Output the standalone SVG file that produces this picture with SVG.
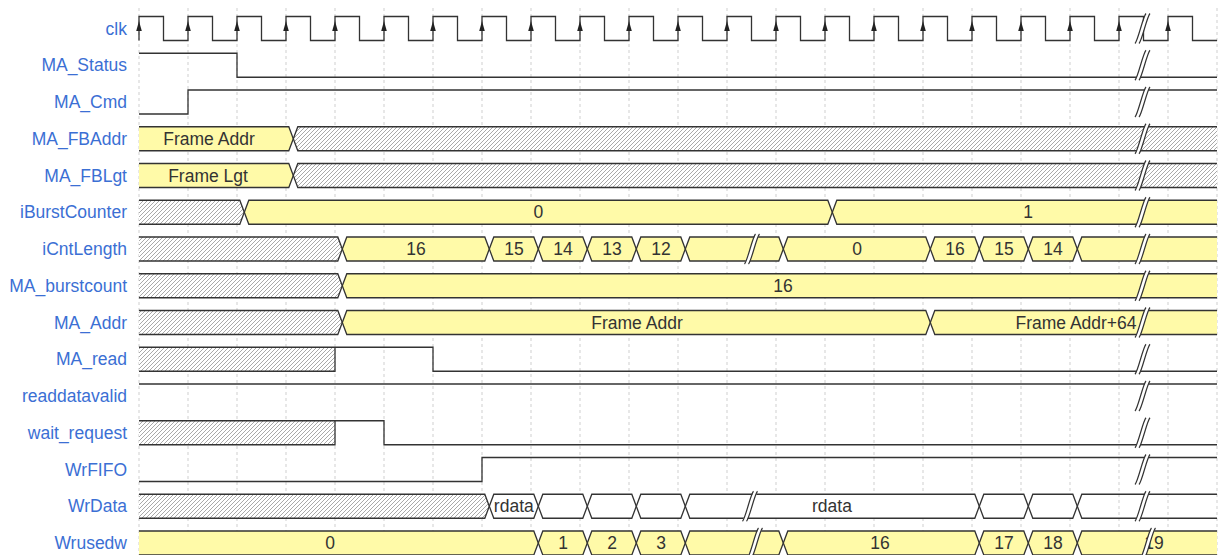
<svg xmlns="http://www.w3.org/2000/svg" xmlns:xlink="http://www.w3.org/1999/xlink" width="1225" height="555" viewBox="0 0 1225 555">
<style>
.lbl{font-family:"Liberation Sans",Arial,sans-serif;font-size:17.5px;fill:#3b6fd4;text-anchor:end}
.val{font-family:"Liberation Sans",Arial,sans-serif;font-size:17.5px;fill:#333;text-anchor:middle}
.sig{fill:none;stroke:#333;stroke-width:1.3}
.by{fill:#fffaa8;stroke:#333;stroke-width:1.3}
.bw{fill:#fff;stroke:#333;stroke-width:1.3}
.fy{fill:#fffaa8;stroke:none}
.fh{fill:url(#hatch);stroke:none}
.fw{fill:#fff;stroke:none}
.grid{stroke:#cfcfcf;stroke-width:1;stroke-dasharray:3 3;fill:none}
</style>
<defs>
<pattern id="hatch" width="4" height="4" patternUnits="userSpaceOnUse">
<rect width="4" height="4" fill="#fff"/>
<path d="M-1,1 L1,-1 M0,4 L4,0 M3,5 L5,3" stroke="#9a9a9a" stroke-width="0.85"/>
</pattern>
<path id="arr" d="M0,-7.5 L-2.8,2.5 L2.8,2.5 Z" fill="#222"/>
<g id="brk">
<path d="M-7.5,15 L3.5,-15 L7.5,-15 L-3.5,15 Z" fill="#fff"/>
<path d="M-7.5,15 C-4.5,12 0.5,-12 3.5,-15 M-3.5,15 C-0.5,12 4.5,-12 7.5,-15" fill="none" stroke="#333" stroke-width="1.2"/>
</g>
</defs>
<rect width="1225" height="555" fill="#fff"/>

<g id="grid">
<path class="grid" d="M139,8V555M188,8V555M237,8V555M286,8V555M335,8V555M384,8V555M433,8V555M482,8V555M531,8V555M580,8V555M629,8V555M678,8V555M727,8V555M776,8V555M825,8V555M874,8V555M923,8V555M972,8V555M1021,8V555M1070,8V555M1119,8V555M1168,8V555M1217,8V555"/>
</g>

<g id="sig-clk">
<text class="lbl" x="127" y="34.5">clk</text>
<path class="sig" d="M139,40.5 V16.5 H163.5 V40.5 H188 V16.5 H212.5 V40.5 H237 V16.5 H261.5 V40.5 H286 V16.5 H310.5 V40.5 H335 V16.5 H359.5 V40.5 H384 V16.5 H408.5 V40.5 H433 V16.5 H457.5 V40.5 H482 V16.5 H506.5 V40.5 H531 V16.5 H555.5 V40.5 H580 V16.5 H604.5 V40.5 H629 V16.5 H653.5 V40.5 H678 V16.5 H702.5 V40.5 H727 V16.5 H751.5 V40.5 H776 V16.5 H800.5 V40.5 H825 V16.5 H849.5 V40.5 H874 V16.5 H898.5 V40.5 H923 V16.5 H947.5 V40.5 H972 V16.5 H996.5 V40.5 H1021 V16.5 H1045.5 V40.5 H1070 V16.5 H1094.5 V40.5 H1119 V16.5 H1143.5 V40.5 H1168 V16.5 H1192.5 V40.5 H1217"/>
<use xlink:href="#arr" x="139" y="28.5"/><use xlink:href="#arr" x="188" y="28.5"/><use xlink:href="#arr" x="237" y="28.5"/><use xlink:href="#arr" x="286" y="28.5"/><use xlink:href="#arr" x="335" y="28.5"/><use xlink:href="#arr" x="384" y="28.5"/><use xlink:href="#arr" x="433" y="28.5"/><use xlink:href="#arr" x="482" y="28.5"/><use xlink:href="#arr" x="531" y="28.5"/><use xlink:href="#arr" x="580" y="28.5"/><use xlink:href="#arr" x="629" y="28.5"/><use xlink:href="#arr" x="678" y="28.5"/><use xlink:href="#arr" x="727" y="28.5"/><use xlink:href="#arr" x="776" y="28.5"/><use xlink:href="#arr" x="825" y="28.5"/><use xlink:href="#arr" x="874" y="28.5"/><use xlink:href="#arr" x="923" y="28.5"/><use xlink:href="#arr" x="972" y="28.5"/><use xlink:href="#arr" x="1021" y="28.5"/><use xlink:href="#arr" x="1070" y="28.5"/><use xlink:href="#arr" x="1119" y="28.5"/><use xlink:href="#arr" x="1168" y="28.5"/>
</g>

<g id="sig-MA_Status">
<text class="lbl" x="127" y="71.25">MA_Status</text>
<path class="sig" d="M139,53.25 H237 V77.25 H1217"/>
</g>

<g id="sig-MA_Cmd">
<text class="lbl" x="127" y="108">MA_Cmd</text>
<path class="sig" d="M139,114 H188 V90 H1217"/>
</g>

<g id="sig-MA_FBAddr">
<text class="lbl" x="127" y="144.75">MA_FBAddr</text>
<polygon class="fy" points="139,126.75 288.8,126.75 293.3,138.75 288.8,150.75 139,150.75"/>
<path class="sig" d="M139,126.75 H288.8 L293.3,138.75 L288.8,150.75 H139"/>
<polygon class="fh" points="293.3,138.75 297.8,126.75 1217,126.75 1217,150.75 297.8,150.75"/>
<path class="sig" d="M1217,126.75 H297.8 L293.3,138.75 L297.8,150.75 H1217"/>
<text class="val" x="209" y="144.75">Frame Addr</text>
</g>

<g id="sig-MA_FBLgt">
<text class="lbl" x="127" y="181.5">MA_FBLgt</text>
<polygon class="fy" points="139,163.5 288.8,163.5 293.3,175.5 288.8,187.5 139,187.5"/>
<path class="sig" d="M139,163.5 H288.8 L293.3,175.5 L288.8,187.5 H139"/>
<polygon class="fh" points="293.3,175.5 297.8,163.5 1217,163.5 1217,187.5 297.8,187.5"/>
<path class="sig" d="M1217,163.5 H297.8 L293.3,175.5 L297.8,187.5 H1217"/>
<text class="val" x="208" y="181.5">Frame Lgt</text>
</g>

<g id="sig-iBurstCounter">
<text class="lbl" x="127" y="218.25">iBurstCounter</text>
<polygon class="fh" points="139,200.25 239.8,200.25 244.3,212.25 239.8,224.25 139,224.25"/>
<path class="sig" d="M139,200.25 H239.8 L244.3,212.25 L239.8,224.25 H139"/>
<polygon class="by" points="244.3,212.25 248.8,200.25 827.8,200.25 832.3,212.25 827.8,224.25 248.8,224.25"/>
<polygon class="fy" points="832.3,212.25 836.8,200.25 1217,200.25 1217,224.25 836.8,224.25"/>
<path class="sig" d="M1217,200.25 H836.8 L832.3,212.25 L836.8,224.25 H1217"/>
<text class="val" x="538.3" y="218.25">0</text>
<text class="val" x="1028" y="218.25">1</text>
</g>

<g id="sig-iCntLength">
<text class="lbl" x="127" y="255">iCntLength</text>
<polygon class="fh" points="139,237 337.8,237 342.3,249 337.8,261 139,261"/>
<path class="sig" d="M139,237 H337.8 L342.3,249 L337.8,261 H139"/>
<polygon class="by" points="342.3,249 346.8,237 484.8,237 489.3,249 484.8,261 346.8,261"/>
<polygon class="by" points="489.3,249 493.8,237 533.8,237 538.3,249 533.8,261 493.8,261"/>
<polygon class="by" points="538.3,249 542.8,237 582.8,237 587.3,249 582.8,261 542.8,261"/>
<polygon class="by" points="587.3,249 591.8,237 631.8,237 636.3,249 631.8,261 591.8,261"/>
<polygon class="by" points="636.3,249 640.8,237 680.8,237 685.3,249 680.8,261 640.8,261"/>
<polygon class="by" points="685.3,249 689.8,237 778.8,237 783.3,249 778.8,261 689.8,261"/>
<polygon class="by" points="783.3,249 787.8,237 925.8,237 930.3,249 925.8,261 787.8,261"/>
<polygon class="by" points="930.3,249 934.8,237 974.8,237 979.3,249 974.8,261 934.8,261"/>
<polygon class="by" points="979.3,249 983.8,237 1023.8,237 1028.3,249 1023.8,261 983.8,261"/>
<polygon class="by" points="1028.3,249 1032.8,237 1072.8,237 1077.3,249 1072.8,261 1032.8,261"/>
<polygon class="fy" points="1077.3,249 1081.8,237 1217,237 1217,261 1081.8,261"/>
<path class="sig" d="M1217,237 H1081.8 L1077.3,249 L1081.8,261 H1217"/>
<text class="val" x="416" y="255">16</text>
<text class="val" x="514" y="255">15</text>
<text class="val" x="563" y="255">14</text>
<text class="val" x="612" y="255">13</text>
<text class="val" x="661" y="255">12</text>
<text class="val" x="857" y="255">0</text>
<text class="val" x="955" y="255">16</text>
<text class="val" x="1004" y="255">15</text>
<text class="val" x="1053" y="255">14</text>
<use xlink:href="#brk" x="752" y="249"/>
</g>

<g id="sig-MA_burstcount">
<text class="lbl" x="127" y="291.75">MA_burstcount</text>
<polygon class="fh" points="139,273.75 337.8,273.75 342.3,285.75 337.8,297.75 139,297.75"/>
<path class="sig" d="M139,273.75 H337.8 L342.3,285.75 L337.8,297.75 H139"/>
<polygon class="fy" points="342.3,285.75 346.8,273.75 1217,273.75 1217,297.75 346.8,297.75"/>
<path class="sig" d="M1217,273.75 H346.8 L342.3,285.75 L346.8,297.75 H1217"/>
<text class="val" x="783" y="291.75">16</text>
</g>

<g id="sig-MA_Addr">
<text class="lbl" x="127" y="328.5">MA_Addr</text>
<polygon class="fh" points="139,310.5 337.8,310.5 342.3,322.5 337.8,334.5 139,334.5"/>
<path class="sig" d="M139,310.5 H337.8 L342.3,322.5 L337.8,334.5 H139"/>
<polygon class="by" points="342.3,322.5 346.8,310.5 925.8,310.5 930.3,322.5 925.8,334.5 346.8,334.5"/>
<polygon class="fy" points="930.3,322.5 934.8,310.5 1217,310.5 1217,334.5 934.8,334.5"/>
<path class="sig" d="M1217,310.5 H934.8 L930.3,322.5 L934.8,334.5 H1217"/>
<text class="val" x="637" y="328.5">Frame Addr</text>
<text class="val" x="1076" y="328.5">Frame Addr+64</text>
</g>

<g id="sig-MA_read">
<text class="lbl" x="127" y="365.25">MA_read</text>
<rect class="fh" x="139" y="347.25" width="196" height="24"/>
<path class="sig" d="M139,347.25 H335 V371.25 H139 M335,347.25 H433 V371.25 H1217"/>
</g>

<g id="sig-readdatavalid">
<text class="lbl" x="127" y="402">readdatavalid</text>
<path class="sig" d="M139,384 H1217"/>
</g>

<g id="sig-wait_request">
<text class="lbl" x="127" y="438.75">wait_request</text>
<rect class="fh" x="139" y="420.75" width="196" height="24"/>
<path class="sig" d="M139,420.75 H335 V444.75 H139 M335,420.75 H384 V444.75 H1217"/>
</g>

<g id="sig-WrFIFO">
<text class="lbl" x="127" y="475.5">WrFIFO</text>
<path class="sig" d="M139,481.5 H482 V457.5 H1217"/>
</g>

<g id="sig-WrData">
<text class="lbl" x="127" y="512.25">WrData</text>
<polygon class="fh" points="139,494.25 484.8,494.25 489.3,506.25 484.8,518.25 139,518.25"/>
<path class="sig" d="M139,494.25 H484.8 L489.3,506.25 L484.8,518.25 H139"/>
<polygon class="bw" points="489.3,506.25 493.8,494.25 533.8,494.25 538.3,506.25 533.8,518.25 493.8,518.25"/>
<polygon class="bw" points="538.3,506.25 542.8,494.25 582.8,494.25 587.3,506.25 582.8,518.25 542.8,518.25"/>
<polygon class="bw" points="587.3,506.25 591.8,494.25 631.8,494.25 636.3,506.25 631.8,518.25 591.8,518.25"/>
<polygon class="bw" points="636.3,506.25 640.8,494.25 680.8,494.25 685.3,506.25 680.8,518.25 640.8,518.25"/>
<polygon class="bw" points="685.3,506.25 689.8,494.25 974.8,494.25 979.3,506.25 974.8,518.25 689.8,518.25"/>
<polygon class="bw" points="979.3,506.25 983.8,494.25 1023.8,494.25 1028.3,506.25 1023.8,518.25 983.8,518.25"/>
<polygon class="bw" points="1028.3,506.25 1032.8,494.25 1072.8,494.25 1077.3,506.25 1072.8,518.25 1032.8,518.25"/>
<path class="sig" d="M1217,494.25 H1081.8 L1077.3,506.25 L1081.8,518.25 H1217"/>
<text class="val" x="513.8" y="512.25">rdata</text>
<text class="val" x="832" y="512.25">rdata</text>
<use xlink:href="#brk" x="750" y="506.25"/>
</g>

<g id="sig-Wrusedw">
<text class="lbl" x="127" y="549">Wrusedw</text>
<polygon class="fy" points="139,531 533.8,531 538.3,543 533.8,555 139,555"/>
<path class="sig" d="M139,531 H533.8 L538.3,543 L533.8,555 H139"/>
<polygon class="by" points="538.3,543 542.8,531 582.8,531 587.3,543 582.8,555 542.8,555"/>
<polygon class="by" points="587.3,543 591.8,531 631.8,531 636.3,543 631.8,555 591.8,555"/>
<polygon class="by" points="636.3,543 640.8,531 680.8,531 685.3,543 680.8,555 640.8,555"/>
<polygon class="by" points="685.3,543 689.8,531 778.8,531 783.3,543 778.8,555 689.8,555"/>
<polygon class="by" points="783.3,543 787.8,531 974.8,531 979.3,543 974.8,555 787.8,555"/>
<polygon class="by" points="979.3,543 983.8,531 1023.8,531 1028.3,543 1023.8,555 983.8,555"/>
<polygon class="by" points="1028.3,543 1032.8,531 1072.8,531 1077.3,543 1072.8,555 1032.8,555"/>
<polygon class="fy" points="1077.3,543 1081.8,531 1217,531 1217,555 1081.8,555"/>
<path class="sig" d="M1217,531 H1081.8 L1077.3,543 L1081.8,555 H1217"/>
<text class="val" x="330" y="549">0</text>
<text class="val" x="563" y="549">1</text>
<text class="val" x="612" y="549">2</text>
<text class="val" x="661" y="549">3</text>
<text class="val" x="880" y="549">16</text>
<text class="val" x="1004" y="549">17</text>
<text class="val" x="1053" y="549">18</text>
<text class="val" x="1154" y="549">19</text>
<use xlink:href="#brk" x="755" y="543"/>
</g>

<g id="breaks">
<use xlink:href="#brk" x="1142.5" y="28.5"/>
<use xlink:href="#brk" x="1142.5" y="65.25"/>
<use xlink:href="#brk" x="1142.5" y="102"/>
<use xlink:href="#brk" x="1142.5" y="138.75"/>
<use xlink:href="#brk" x="1142.5" y="175.5"/>
<use xlink:href="#brk" x="1142.5" y="212.25"/>
<use xlink:href="#brk" x="1142.5" y="249"/>
<use xlink:href="#brk" x="1142.5" y="285.75"/>
<use xlink:href="#brk" x="1142.5" y="322.5"/>
<use xlink:href="#brk" x="1142.5" y="359.25"/>
<use xlink:href="#brk" x="1142.5" y="396"/>
<use xlink:href="#brk" x="1142.5" y="432.75"/>
<use xlink:href="#brk" x="1142.5" y="469.5"/>
<use xlink:href="#brk" x="1142.5" y="506.25"/>
<use xlink:href="#brk" x="1148" y="543"/>
</g>
</svg>
